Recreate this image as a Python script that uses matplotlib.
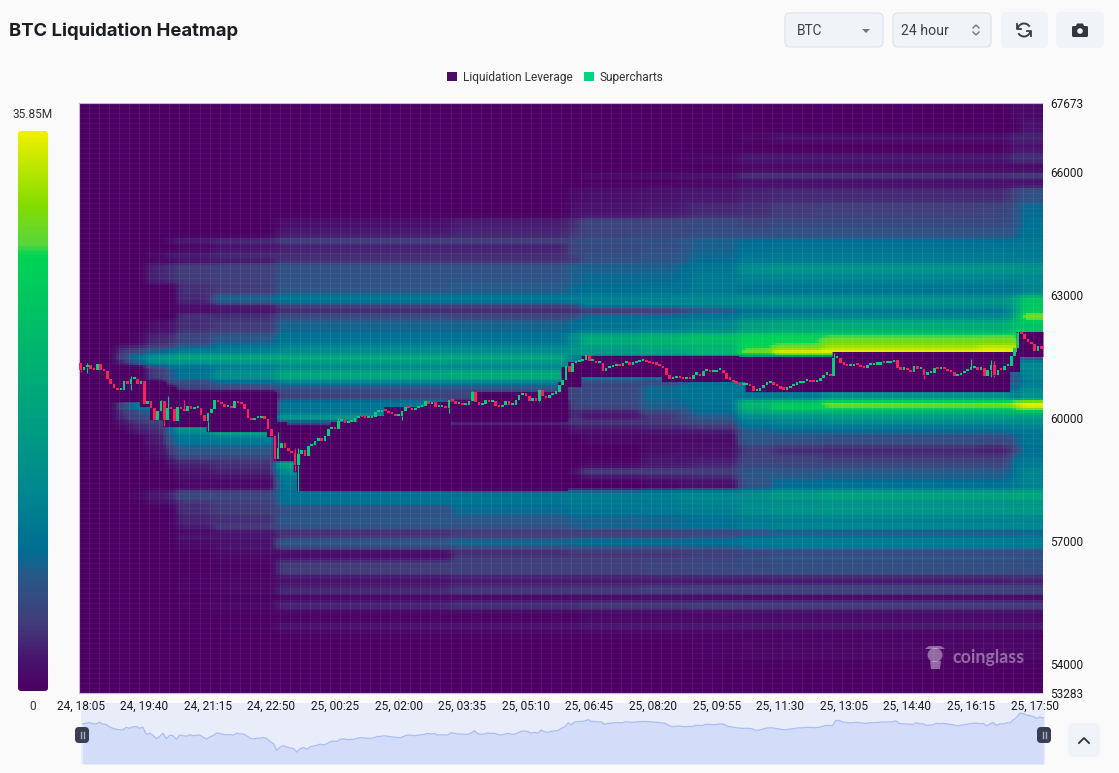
import numpy as np
from matplotlib import pyplot as plt
from matplotlib.colors import LinearSegmentedColormap
from matplotlib.patches import FancyBboxPatch, Patch, Circle, Arc, Ellipse, Polygon

time_labels = ['24, 18:05', '24, 19:40', '24, 21:15', '24, 22:50', '25, 00:25', '25, 02:00', '25, 03:35', '25, 05:10',
               '25, 06:45', '25, 08:20', '25, 09:55', '25, 11:30', '25, 13:05', '25, 14:40', '25, 16:15', '25, 17:50']
price_ticks = [67673, 66000, 63000, 60000, 57000, 54000, 53283]

first_open = 61320
closes = [61170, 61240, 61290, 61190, 61160, 61300, 61160, 61130, 60930, 60810, 60730, 60680, 60680, 60890, 60810, 60930,
          60950, 60810, 60890, 60320, 60400, 60240, 59950, 60150, 60400, 59950, 60240, 60200, 59910, 60260, 60200, 60150,
          60280, 60200, 60240, 60240, 60070, 59910, 60110, 60200, 60420, 60375, 60320, 60260, 60290, 60240, 60400, 60360,
          60340, 60200, 59990, 59935, 59990, 59990, 60050, 59970, 59710, 59560, 58990, 59260, 59380, 59260, 59180, 59140,
          58850, 59120, 59220, 59070, 59300, 59340, 59420, 59500, 59420, 59540, 59710, 59750, 59720, 59910, 59935, 59870,
          59890, 59890, 59990, 60030, 60020, 59990, 59990, 60020, 60140, 60140, 60195, 60155, 60115, 60080, 60035, 60035,
          60155, 60260, 60236, 60195, 60236, 60260, 60293, 60400, 60342, 60375, 60260, 60260, 60277, 60236, 60440, 60400,
          60342, 60342, 60318, 60318, 60400, 60620, 60375, 60318, 60342, 60424, 60375, 60400, 60293, 60260, 60318, 60400,
          60318, 60318, 60440, 60562, 60587, 60538, 60400, 60480, 60400, 60668, 60521, 60480, 60562, 60587, 60620, 60806,
          60929, 61254, 61108, 61336, 61352, 61376, 61417, 61515, 61376, 61376, 61336, 61336, 61132, 61214, 61238, 61254,
          61295, 61254, 61336, 61336, 61295, 61320, 61352, 61376, 61376, 61352, 61336, 61311, 61295, 61254, 61214, 61051,
          60945, 60970, 60994, 60970, 60945, 60970, 60945, 61051, 61051, 61010, 61132, 61132, 61108, 61108, 61157, 61173,
          61092, 60945, 60929, 60863, 60831, 60806, 60806, 60806, 60766, 60644, 60644, 60725, 60807, 60847, 60847, 60807,
          60766, 60701, 60685, 60725, 60766, 60807, 60847, 60847, 60888, 60888, 60872, 60864, 60888, 60970, 61051, 61051,
          61010, 61458, 61458, 61336, 61295, 61255, 61255, 61295, 61279, 61238, 61214, 61271, 61271, 61295, 61295, 61336,
          61320, 61336, 61352, 61417, 61214, 61173, 61173, 61157, 61116, 61255, 61190, 61190, 61051, 61076, 61092, 61214,
          61190, 61214, 61190, 61132, 61108, 61010, 61027, 61092, 61132, 61173, 61214, 61230, 61173, 61214, 61010, 61173,
          61295, 61051, 61173, 61157, 61255, 61255, 61499, 61703, 62069, 62028, 61906, 61841, 61784, 61621, 61743, 61662]
# only the wicks that stick out in the picture
wick_high = {2: 61340, 15: 61010, 24: 60440, 26: 60520, 31: 60420, 59: 59640, 65: 59260, 64: 59260, 77: 60000, 117: 60640,
             137: 60700, 225: 61580, 266: 61420, 272: 61417, 273: 61377, 280: 62110, 281: 62110}
wick_low = {0: 61110, 2: 61090, 15: 60670, 25: 59790, 38: 59680, 58: 58970, 64: 58690, 65: 58220, 96: 59950, 110: 60100,
            137: 60375, 252: 60930, 272: 61000, 273: 60990}

swept_top_steps = [(0, 61246), (19, 60880), (26, 60757), (29, 60635), (59, 59902), (62, 59805), (75, 59902), (83, 60050),
                   (91, 60269), (103, 60391), (117, 60635), (143, 60880), (144, 61246), (146, 61368), (150, 61515),
                   (197, 61490), (225, 61612), (280, 62100)]
swept_bottom_steps = [(0, 60391), (18, 60269), (21, 59950), (25, 59780), (38, 59658), (56, 59536), (58, 58950), (64, 58680),
                      (65, 58217), (111, 59902), (146, 60757), (150, 61000), (174, 60880), (199, 60635), (278, 61124),
                      (281, 61490)]
# stretch under the faint band that starts at 03:20, still empty down to the old low
empty_start, empty_end = 111, 146
empty_top, empty_bottom = 59658, 58217

# heat in percent of the 35.85M maximum, one column per time segment
segment_edges = [0, 11, 15, 20, 26, 29, 40, 59, 111, 146, 150, 168, 179, 183, 197, 207, 222, 269, 278, 281, 288]
band_edges = [67673, 67280, 66963, 66718, 66474, 66230, 65985, 65863, 65619, 65252, 64886, 64642, 64397, 64275, 64031, 63909,
              63787, 63689, 63542, 63298, 63200, 62956, 62809, 62687, 62565, 62394, 62077, 61954, 61783, 61612, 61490, 61368,
              61246, 61124, 60880, 60757, 60635, 60440, 60391, 60269, 60147, 60024, 59902, 59780, 59658, 59536, 59340, 59096,
              58950, 58779, 58607, 58485, 58217, 57997, 57875, 57630, 57386, 57264, 57142, 56995, 56873, 56751, 56629, 56506,
              56164, 55920, 55798, 55676, 55554, 55309, 55016, 54821, 54577, 54088, 53283]
heat_rows = [
    [0, 0, 0, 0, 0, 0, 0, 0, 0, 0, 0, 0, 0, 0, 0, 0, 0, 0, 3, 3],
    [0, 0, 0, 0, 0, 0, 0, 0, 0, 0, 0, 0, 0, 0, 0, 0, 0, 0, 0, 5],
    [0, 0, 0, 0, 0, 0, 0, 0, 0, 0, 0, 0, 0, 0, 2, 4, 4, 4, 8, 8],
    [0, 0, 0, 0, 0, 0, 0, 0, 0, 0, 0, 0, 0, 0, 0, 0, 0, 0, 5, 5],
    [0, 0, 0, 0, 0, 0, 0, 0, 0, 0, 0, 0, 1, 2, 6, 6, 6, 6, 10, 10],
    [0, 0, 0, 0, 0, 0, 0, 0, 0, 0, 0, 0, 0, 0, 2, 2, 2, 2, 3, 3],
    [0, 0, 0, 0, 0, 0, 0, 0, 0, 0, 3, 4, 5, 6, 12, 12, 12, 12, 13, 14],
    [0, 0, 0, 0, 0, 0, 0, 0, 0, 0, 1, 1, 2, 2, 4, 4, 4, 4, 5, 5],
    [0, 0, 0, 0, 0, 0, 0, 0, 0, 3, 4, 5, 6, 6, 8, 9, 9, 9, 14, 18],
    [0, 0, 0, 0, 0, 0, 0, 0, 0, 4, 5, 6, 7, 9, 10, 12, 13, 14, 18, 24],
    [0, 0, 0, 0, 0, 0, 0, 4, 7, 10, 14, 14, 15, 16, 14, 16, 16, 16, 18, 26],
    [0, 0, 0, 0, 0, 0, 0, 6, 8, 11, 14, 15, 15, 17, 17, 18, 18, 19, 20, 27],
    [0, 0, 0, 0, 6, 8, 10, 14, 14, 16, 18, 18, 20, 22, 24, 24, 25, 25, 26, 28],
    [0, 0, 0, 0, 0, 2, 5, 8, 8, 14, 16, 17, 19, 22, 26, 27, 27, 28, 28, 30],
    [0, 0, 0, 3, 8, 8, 10, 10, 10, 14, 18, 19, 21, 24, 28, 30, 30, 30, 30, 30],
    [0, 0, 0, 0, 0, 3, 5, 9, 9, 10, 17, 18, 20, 24, 30, 31, 31, 31, 31, 32],
    [0, 0, 0, 8, 10, 12, 13, 18, 18, 22, 22, 22, 25, 28, 33, 35, 35, 36, 36, 36],
    [0, 0, 0, 8, 10, 12, 13, 18, 18, 22, 22, 22, 25, 28, 40, 43, 43, 43, 43, 42],
    [0, 0, 0, 8, 10, 12, 13, 19, 19, 22, 24, 24, 26, 30, 33, 35, 35, 35, 34, 36],
    [0, 0, 0, 3, 4, 10, 12, 17, 20, 22, 24, 25, 26, 30, 30, 30, 30, 30, 30, 35],
    [0, 0, 0, 0, 0, 10, 12, 20, 21, 24, 26, 27, 27, 30, 27, 28, 28, 28, 28, 34],
    [0, 0, 0, 0, 0, 9, 24, 30, 30, 32, 33, 34, 35, 36, 40, 42, 42, 42, 50, 68],
    [0, 0, 0, 0, 0, 5, 8, 14, 14, 18, 32, 34, 34, 36, 38, 40, 40, 40, 48, 70],
    [0, 0, 0, 0, 0, 2, 4, 8, 8, 8, 8, 9, 12, 18, 25, 26, 27, 27, 42, 70],
    [0, 0, 0, 0, 0, 10, 10, 16, 14, 18, 24, 25, 26, 28, 33, 35, 35, 36, 50, 85],
    [0, 0, 0, 4, 5, 10, 12, 23, 23, 25, 28, 30, 32, 35, 48, 52, 55, 55, 65, 68],
    [0, 0, 2, 8, 9, 15, 20, 27, 27, 40, 52, 58, 62, 65, 74, 76, 78, 78, 78, 72],
    [0, 0, 2, 9, 10, 15, 21, 28, 28, 38, 55, 60, 63, 66, 76, 78, 84, 85, 85, 78],
    [0, 8, 10, 15, 18, 25, 30, 36, 36, 42, 45, 52, 55, 58, 78, 84, 92, 96, 96, 78],
    [0, 12, 16, 25, 28, 35, 34, 38, 38, 44, 46, 50, 54, 62, 84, 100, 100, 100, 96, 78],
    [0, 15, 30, 45, 50, 55, 55, 56, 55, 30, 30, 30, 30, 30, 30, 30, 30, 30, 30, 14],
    [0, 8, 18, 35, 38, 40, 42, 45, 42, 30, 30, 30, 30, 30, 30, 30, 30, 30, 30, 36],
    [0, 0, 0, 12, 25, 25, 30, 35, 35, 30, 30, 30, 30, 30, 30, 30, 30, 30, 30, 36],
    [0, 0, 0, 12, 20, 28, 40, 52, 55, 30, 30, 30, 30, 30, 30, 30, 30, 30, 16, 34],
    [0, 0, 0, 0, 15, 15, 20, 30, 30, 14, 14, 14, 20, 26, 26, 26, 26, 26, 18, 30],
    [0, 0, 0, 0, 0, 15, 18, 18, 18, 14, 16, 24, 28, 28, 28, 28, 28, 28, 20, 34],
    [0, 0, 0, 0, 0, 0, 0, 14, 14, 14, 16, 24, 26, 28, 28, 30, 40, 40, 32, 40],
    [0, 15, 15, 15, 15, 0, 0, 28, 0, 14, 16, 24, 24, 28, 50, 36, 38, 38, 45, 45],
    [0, 15, 30, 38, 38, 0, 0, 28, 0, 14, 16, 22, 24, 28, 62, 70, 85, 88, 95, 100],
    [0, 15, 28, 28, 35, 0, 0, 28, 0, 14, 14, 22, 22, 26, 60, 75, 78, 78, 85, 95],
    [0, 10, 15, 18, 35, 0, 0, 28, 0, 8, 6, 14, 18, 24, 48, 52, 55, 55, 58, 60],
    [0, 10, 15, 18, 33, 0, 0, 48, 0, 10, 6, 10, 15, 20, 36, 40, 44, 44, 44, 44],
    [0, 5, 10, 12, 30, 30, 0, 15, 10, 12, 12, 12, 14, 16, 30, 34, 36, 36, 38, 38],
    [0, 2, 8, 10, 30, 48, 48, 0, 0, 6, 6, 8, 8, 10, 24, 27, 28, 28, 30, 32],
    [0, 0, 6, 8, 25, 35, 52, 0, 0, 4, 4, 5, 5, 6, 20, 22, 22, 22, 26, 28],
    [0, 0, 0, 6, 20, 28, 30, 0, 0, 0, 2, 3, 3, 3, 20, 18, 17, 16, 20, 28],
    [0, 0, 0, 4, 12, 20, 20, 0, 0, 0, 0, 3, 4, 4, 12, 10, 9, 8, 14, 26],
    [0, 0, 0, 2, 8, 14, 14, 0, 0, 0, 0, 6, 5, 6, 14, 13, 12, 12, 24, 28],
    [0, 0, 0, 0, 5, 8, 10, 52, 0, 0, 2, 6, 6, 8, 15, 14, 14, 14, 26, 30],
    [0, 0, 0, 0, 0, 5, 8, 38, 0, 4, 12, 12, 12, 12, 20, 20, 21, 21, 26, 34],
    [0, 0, 0, 0, 0, 4, 4, 30, 0, 0, 4, 6, 7, 8, 20, 21, 22, 22, 28, 35],
    [0, 0, 0, 0, 0, 2, 2, 28, 0, 0, 0, 2, 4, 4, 18, 25, 26, 26, 30, 33],
    [0, 0, 2, 6, 8, 16, 15, 26, 28, 30, 30, 32, 35, 36, 40, 46, 50, 50, 52, 52],
    [0, 0, 0, 4, 5, 10, 12, 26, 28, 30, 30, 30, 32, 34, 36, 38, 40, 40, 40, 42],
    [0, 0, 0, 0, 0, 10, 12, 18, 24, 28, 28, 29, 31, 32, 38, 42, 44, 44, 44, 46],
    [0, 0, 0, 0, 0, 8, 10, 20, 20, 22, 22, 23, 24, 26, 30, 32, 33, 33, 34, 34],
    [0, 0, 0, 0, 0, 6, 12, 18, 18, 20, 24, 25, 26, 27, 32, 35, 36, 36, 36, 38],
    [0, 0, 0, 0, 0, 2, 4, 8, 10, 10, 10, 10, 11, 12, 16, 18, 18, 18, 18, 20],
    [0, 0, 0, 0, 0, 6, 6, 13, 16, 18, 18, 18, 20, 22, 28, 30, 30, 30, 30, 32],
    [0, 0, 0, 0, 0, 2, 4, 22, 25, 26, 26, 26, 26, 27, 29, 30, 31, 31, 31, 32],
    [0, 0, 0, 0, 0, 2, 5, 14, 16, 18, 18, 18, 19, 20, 26, 29, 30, 30, 30, 30],
    [0, 0, 0, 0, 0, 0, 3, 2, 8, 10, 10, 10, 10, 11, 13, 14, 14, 14, 14, 15],
    [0, 0, 0, 0, 0, 0, 2, 4, 12, 12, 12, 12, 13, 14, 18, 20, 20, 20, 20, 20],
    [0, 0, 0, 0, 0, 0, 1, 12, 13, 13, 13, 14, 14, 15, 16, 17, 17, 17, 17, 17],
    [0, 0, 0, 0, 0, 1, 2, 5, 7, 7, 7, 7, 7, 7, 7, 7, 7, 7, 8, 8],
    [0, 0, 0, 0, 0, 1, 2, 8, 10, 11, 11, 12, 12, 13, 14, 14, 14, 14, 14, 14],
    [0, 0, 0, 0, 0, 1, 2, 10, 12, 12, 12, 13, 13, 13, 14, 14, 14, 14, 14, 14],
    [0, 0, 0, 0, 0, 0, 0, 0, 0, 0, 0, 0, 0, 0, 0, 0, 0, 0, 0, 0],
    [0, 0, 0, 0, 0, 1, 2, 8, 10, 10, 11, 11, 11, 12, 12, 12, 12, 12, 12, 12],
    [0, 0, 0, 0, 0, 0, 0, 1, 1, 1, 2, 2, 2, 2, 3, 3, 3, 3, 3, 3],
    [0, 0, 0, 0, 0, 0, 1, 5, 5, 5, 6, 6, 6, 6, 7, 7, 7, 7, 7, 7],
    [0, 0, 0, 0, 0, 0, 0, 1, 1, 1, 1, 1, 1, 1, 1, 1, 1, 1, 1, 1],
    [0, 0, 0, 0, 0, 0, 0, 0, 0, 0, 0, 0, 0, 1, 2, 2, 2, 2, 2, 2],
    [0, 0, 0, 0, 0, 0, 0, 0, 0, 0, 0, 0, 0, 0, 0, 0, 0, 0, 0, 0],
]

plt.rcParams['font.family'] = ['Roboto', 'DejaVu Sans']

W, H = 1119, 773
BG = '#fafafa'
heat_colors = [(0, '#4c0063'), (0.06, '#48176f'), (0.12, '#423d7a'), (0.2, '#2b5788'), (0.25, '#006e94'), (0.35, '#008690'),
               (0.5, '#00a27f'), (0.65, '#00bd69'), (0.78, '#00d455'), (0.8, '#58d63c'), (0.87, '#84dd00'), (1, '#f0f000')]
heat_cmap = LinearSegmentedColormap.from_list('heat', heat_colors)


def px_axes(left, top, right, bottom):
    return fig.add_axes([left / W, 1 - bottom / H, (right - left) / W, (bottom - top) / H])


def step_values(steps, n):
    vals = np.zeros(n)
    for start, price in steps:
        vals[start:] = price
    return vals


def soften(grid, kernel, axis):
    # the site blurs its cells a little, so do the same when drawing
    k = np.array(kernel, dtype=float)
    k = k / k.sum()
    pad = len(k) // 2
    return np.apply_along_axis(lambda r: np.convolve(np.pad(r, pad, mode='edge'), k, mode='valid'), axis, grid)


fig = plt.figure(figsize=(W / 100, H / 100), dpi=100, facecolor=BG)

n = len(closes)
rows = np.array(heat_rows, dtype=float)

# lay the table on an even grid, one column a candle and rows of about 2.5 px
grid_y = np.arange(53283, 67673 + 61, 61)
grid_x = np.arange(n + 1)
row_idx = np.clip(len(band_edges) - 1 - np.searchsorted(band_edges[::-1], (grid_y[:-1] + grid_y[1:]) / 2), 0, rows.shape[0] - 1)
col_idx = np.searchsorted(segment_edges, np.arange(n) + 0.5) - 1
fine = rows[np.ix_(row_idx, col_idx)]
fine = soften(fine, [1, 2, 3, 2, 1], 1)
fine = soften(fine, [1, 2, 1], 0)

# main heatmap
ax = px_axes(79, 103, 1043, 693)
ax.set_zorder(5)
ax.pcolormesh(grid_x, grid_y, fine, cmap=heat_cmap, vmin=0, vmax=100, shading='flat')

swept_x = np.arange(n + 1)
swept_top = np.append(step_values(swept_top_steps, n), swept_top_steps[-1][1])
swept_bottom = np.append(step_values(swept_bottom_steps, n), swept_bottom_steps[-1][1])
ax.fill_between(swept_x, swept_bottom, swept_top, step='post', color='#4c0063', lw=0)
ax.fill_between([empty_start, empty_end], empty_bottom, empty_top, color='#4c0063', lw=0)

ax.vlines(np.arange(0, n, 3), 53283, 67673, color='white', lw=0.7, alpha=0.08)
ax.hlines(np.arange(53283, 67673, 122), 0, n, color='white', lw=0.5, alpha=0.05)

# candles
opens = np.array([first_open] + closes[:-1])
closes_arr = np.array(closes)
x = np.arange(n) + 0.5
up = closes_arr >= opens
candle_colors = np.where(up, '#03cf7b', '#fb2257')
for i, hi in wick_high.items():
    ax.vlines(x[i], max(opens[i], closes_arr[i]), hi, color=candle_colors[i], lw=0.8, zorder=3)
for i, lo in wick_low.items():
    ax.vlines(x[i], lo, min(opens[i], closes_arr[i]), color=candle_colors[i], lw=0.8, zorder=3)
ax.bar(x, np.maximum(np.abs(closes_arr - opens), 50), bottom=np.minimum(opens, closes_arr), width=0.78,
       color=candle_colors, lw=0, zorder=4)

ax.set_xlim(0, n)
ax.set_ylim(53283, 67673)
ax.yaxis.tick_right()
ax.set_yticks(price_ticks)
ax.set_xticks(np.arange(len(time_labels)) * 19 + 0.5)
ax.set_xticklabels(time_labels)
ax.tick_params(length=0, labelsize=8.6, colors='#1c1c1c', pad=5)
ax.tick_params(axis='y', pad=5)
for lab in ax.get_yticklabels():
    lab.set_verticalalignment('center_baseline')
for name in ['top', 'bottom', 'left']:
    ax.spines[name].set_color('#c9b8d2')
    ax.spines[name].set_linestyle((0, (1, 1)))
    ax.spines[name].set_linewidth(0.8)
ax.spines['right'].set_visible(False)

# colour bar
cax = px_axes(18, 131, 48, 691)
grad = np.linspace(1, 0, 400).reshape(-1, 1)
im = cax.imshow(grad, cmap=heat_cmap, aspect='auto', extent=[0, 1, 0, 1], vmin=0, vmax=1)
cax.axis('off')

# navigator under the chart
nav = px_axes(81, 703, 1045, 764)
nav.set_facecolor('#e9ecf9')
nav.fill_between(x, closes, 57860, color='#d3dcf9', lw=0)
nav.plot(x, closes, color='#a9bdf7', lw=0.9)
nav.set_xlim(0, n)
nav.set_ylim(57860, 62900)
nav.set_xticks([])
nav.set_yticks([])
for s in nav.spines.values():
    s.set_visible(False)

# everything else is placed in pixels on a transparent layer
ui = fig.add_axes([0, 0, 1, 1], facecolor='none', zorder=10)
ui.set_xlim(0, W)
ui.set_ylim(H, 0)
ui.axis('off')

clip = FancyBboxPatch((18, 131), 30, 560, boxstyle='round,pad=0,rounding_size=3', transform=ui.transData, lw=0)
im.set_clip_path(clip)

ui.text(9, 31, 'BTC Liquidation Heatmap', fontsize=13.3, fontweight='bold', family=['Inter', 'DejaVu Sans'],
        color='#1a1d21', va='center')
ui.text(33, 114, '35.85M', fontsize=8.6, color='#333333', ha='center', va='center')
ui.text(33, 706, '0', fontsize=8.6, color='#333333', ha='center', va='center')


def button(left, top, right, bottom, edge='none'):
    ui.add_patch(FancyBboxPatch((left, top), right - left, bottom - top, boxstyle='round,pad=0,rounding_size=5',
                                fc='#f0f3f8', ec=edge, lw=0.9))


button(785, 13, 883, 47, '#dde6ee')
button(893, 13, 991, 47, '#e0e3e8')
button(1001, 12, 1048, 48)
button(1056, 12, 1104, 48)
ui.text(797, 31, 'BTC', fontsize=9.8, color='#3d4248', va='center')
ui.text(901, 31, '24 hour', fontsize=10.2, color='#3d4248', va='center')
ui.add_patch(Polygon([[862, 29], [870, 29], [866, 33]], fc='#70767c', lw=0))
ui.plot([973, 976, 979], [28, 25, 28], color='#70767c', lw=1)
ui.plot([973, 976, 979], [32, 35, 32], color='#70767c', lw=1)

# refresh icon
ui.add_patch(Arc((1024, 30), 13, 13, theta1=190, theta2=330, ec='#3b3f46', lw=1.4))
ui.add_patch(Arc((1024, 30), 13, 13, theta1=10, theta2=150, ec='#3b3f46', lw=1.4))
ui.plot([1017, 1017, 1021], [24, 29, 29], color='#3b3f46', lw=1.3)
ui.plot([1027, 1031, 1031], [31, 31, 36], color='#3b3f46', lw=1.3)

# camera icon
ui.add_patch(FancyBboxPatch((1072, 26), 16, 11, boxstyle='round,pad=0,rounding_size=1.5', fc='#33373d', lw=0))
ui.add_patch(Polygon([[1076, 26], [1077, 23.5], [1083, 23.5], [1084, 26]], fc='#33373d', lw=0))
ui.add_patch(Circle((1080, 31), 2.8, fc='#f0f3f8', lw=0))

# navigator handles and collapse button
for cx in [82, 1044]:
    ui.add_patch(FancyBboxPatch((cx - 7, 727), 14, 16, boxstyle='round,pad=0,rounding_size=4', fc='#3a3e52', lw=0))
    ui.plot([cx - 1.5, cx - 1.5], [732, 738], color='#aab0c0', lw=1)
    ui.plot([cx + 1.5, cx + 1.5], [732, 738], color='#aab0c0', lw=1)
button(1068, 723, 1100, 757)
ui.plot([1079, 1084, 1089], [743, 738, 743], color='#2f3338', lw=1.3)

# watermark
ui.add_patch(Ellipse((935, 655), 15, 14, fc='white', alpha=0.4, lw=0))
ui.add_patch(Polygon([[925, 649], [945, 649], [941, 646], [929, 646]], fc='white', alpha=0.4, lw=0))
ui.add_patch(Polygon([[930, 661], [941, 661], [940, 669], [931, 669]], fc='white', alpha=0.4, lw=0))
ui.text(952, 657, 'coinglass', fontsize=12.8, fontweight='bold', family=['Lato', 'DejaVu Sans'], color='white',
        alpha=0.4, va='center')

handles = [Patch(fc='#4a0a66', label='Liquidation Leverage'), Patch(fc='#00d67e', label='Supercharts')]
fig.legend(handles=handles, loc='center', bbox_to_anchor=(555.5 / W, 1 - 77 / H), ncol=2, frameon=False, fontsize=8.6,
           handlelength=0.8, handleheight=0.8, handletextpad=0.5, columnspacing=1.0, labelcolor='#333333')

fig.savefig('out.png', dpi=100, facecolor=BG)
